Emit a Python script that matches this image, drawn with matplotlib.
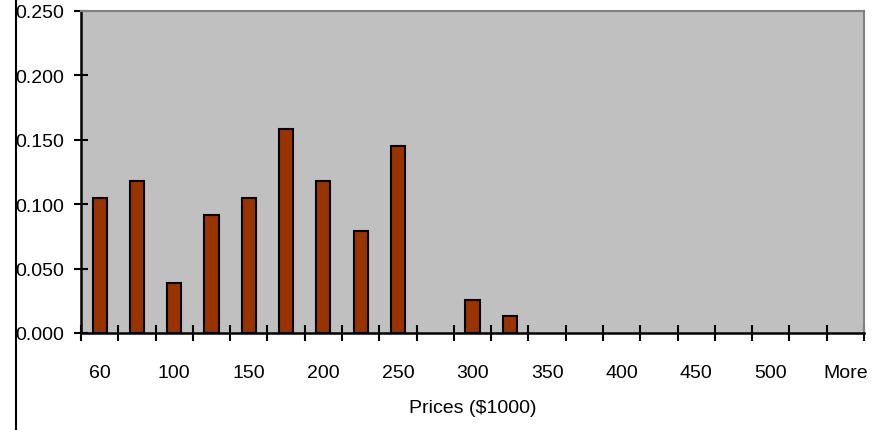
import matplotlib.pyplot as plt
from matplotlib import font_manager
from matplotlib.lines import Line2D
import numpy as np

# histogram bins (every other label is shown) and relative frequencies
bins = ['60', '80', '100', '125', '150', '175', '200', '225', '250', '275', '300',
        '325', '350', '375', '400', '425', '450', '475', '500', '525', 'More']
freq = [0.105, 0.118, 0.039, 0.092, 0.105, 0.158, 0.118, 0.079, 0.145, 0.0, 0.026,
        0.013, 0.0, 0.0, 0.0, 0.0, 0.0, 0.0, 0.0, 0.0, 0.0]
yticks = [0.0, 0.05, 0.10, 0.15, 0.20, 0.25]

names = {f.name for f in font_manager.fontManager.ttflist}
family = 'Liberation Sans Narrow' if 'Liberation Sans Narrow' in names else 'Liberation Sans'
plt.rcParams['font.family'] = [family, 'DejaVu Sans']
fs = 14

fig = plt.figure(figsize=(8.83, 4.31), dpi=100)
ax = fig.add_axes([81 / 883, 97 / 431, 783 / 883, 322 / 431])
ax.set_facecolor('#c0c0c0')

x = np.arange(len(bins))
# empty bins get no outline
edges = ['black' if v > 0 else 'none' for v in freq]
ax.bar(x, freq, width=0.38, color='#993300', edgecolor=edges, linewidth=1.5, zorder=3)

ax.set_xlim(-0.5, len(bins) - 0.5)
ax.set_ylim(0, 0.25)

# tick marks at the bin boundaries, labels on every other bin
ax.set_xticks(np.arange(len(bins) + 1) - 0.5)
ax.set_xticklabels([])
ax.set_xticks(x[::2], minor=True)
ax.set_xticklabels(bins[::2], minor=True, fontsize=fs)
ax.tick_params(axis='x', which='major', direction='inout', length=11, width=1.5)
ax.tick_params(axis='x', which='minor', length=0, pad=22)

ax.set_yticks(yticks)
ax.set_yticklabels(['%.3f' % v for v in yticks], fontsize=fs)
ax.tick_params(axis='y', direction='inout', length=10, width=1.5, pad=7)

ax.set_xlabel('Prices ($1000)', fontsize=fs, labelpad=13)

for side in ['left', 'bottom']:
    ax.spines[side].set_linewidth(1.8)
    ax.spines[side].set_color('black')
for side in ['top', 'right']:
    ax.spines[side].set_linewidth(1.5)
    ax.spines[side].set_color('#808080')

# chart border on the left
fig.add_artist(Line2D([16 / 883, 16 / 883], [0, 1], color='black', linewidth=1.5,
                      transform=fig.transFigure))

fig.savefig('out.png', dpi=100)
